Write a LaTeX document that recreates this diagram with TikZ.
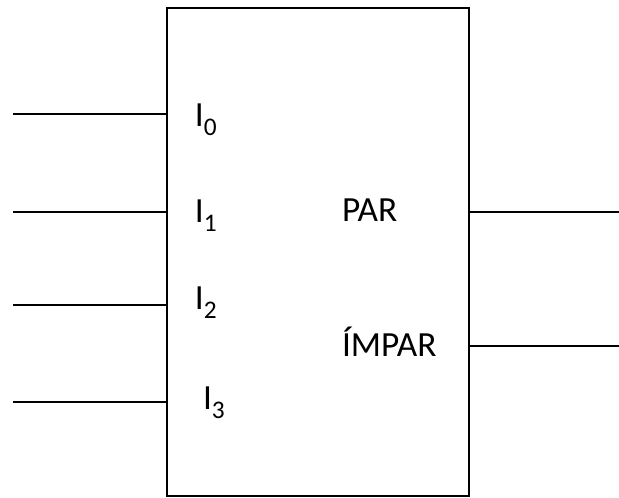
\documentclass[tikz,border=0pt]{standalone}
\usepackage{fontspec}
\setmainfont{Carlito}
\newcommand{\insub}[1]{I\raisebox{-6.5pt}{\fontsize{19}{19}\selectfont #1}}
\begin{document}
\begin{tikzpicture}[x=0.75pt,y=-0.75pt,line width=1.5pt,
	lbl/.style={anchor=base west,inner sep=0pt,font=\fontsize{26.5}{30}\selectfont}]
	\useasboundingbox (0,0) rectangle (619,498);
	% the block
	\node (box) [draw,line width=1.3pt,inner sep=0pt,minimum width=227pt,minimum height=366pt] at (318,252) {};
	% input lines
	\coordinate (i0) at (13,114);
	\coordinate (i1) at (13,212);
	\coordinate (i2) at (13,305);
	\coordinate (i3) at (13,402);
	\foreach \n in {0,...,3}
		\draw (i\n) -- (i\n -| box.west);
	% output lines
	\coordinate (par) at (619,212);
	\coordinate (impar) at (619,346);
	\draw (box.east |- par) -- (par);
	\draw (box.east |- impar) -- (impar);
	% labels
	\node (l0) [lbl] at (194,127) {\insub{0}};
	\node (l1) [lbl] at (194,223) {\insub{1}};
	\node (l2) [lbl] at (194,310) {\insub{2}};
	\node (l3) [lbl] at (202,410) {\insub{3}};
	\node (lpar) [lbl] at (341,222) {PAR};
	\node (limpar) [lbl] at (341,357) {ÍMPAR};
\end{tikzpicture}
\end{document}
